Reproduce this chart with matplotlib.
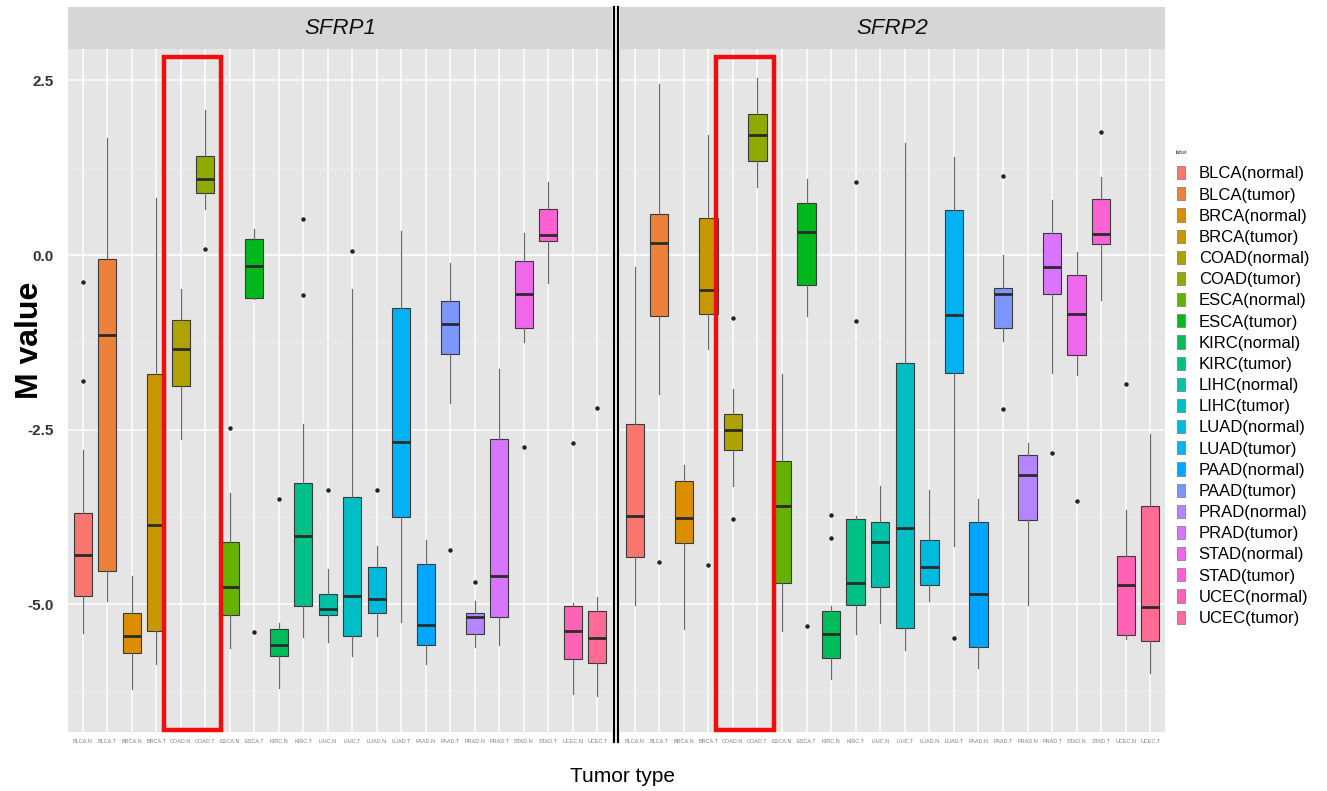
import numpy as np
import matplotlib
matplotlib.use("Agg")
import matplotlib.pyplot as plt
from matplotlib.patches import Patch, Rectangle
from matplotlib.lines import Line2D

plt.rcParams["font.family"] = ["Liberation Sans", "DejaVu Sans"]

W, H = 1327, 791

CATEGORIES = [
    "BLCA.N", "BLCA.T", "BRCA.N", "BRCA.T", "COAD.N", "COAD.T", "ESCA.N", "ESCA.T",
    "KIRC.N", "KIRC.T", "LIHC.N", "LIHC.T", "LUAD.N", "LUAD.T", "PAAD.N", "PAAD.T",
    "PRAD.N", "PRAD.T", "STAD.N", "STAD.T", "UCEC.N", "UCEC.T",
]
LEGEND_LABELS = [
    "BLCA(normal)", "BLCA(tumor)", "BRCA(normal)", "BRCA(tumor)", "COAD(normal)",
    "COAD(tumor)", "ESCA(normal)", "ESCA(tumor)", "KIRC(normal)", "KIRC(tumor)",
    "LIHC(normal)", "LIHC(tumor)", "LUAD(normal)", "LUAD(tumor)", "PAAD(normal)",
    "PAAD(tumor)", "PRAD(normal)", "PRAD(tumor)", "STAD(normal)", "STAD(tumor)",
    "UCEC(normal)", "UCEC(tumor)",
]
GENES = ["SFRP1", "SFRP2"]
HIGHLIGHT = ["COAD.N", "COAD.T"]

# box stats (M values)
SFRP1_WHISLO = [-5.41, -4.96, -6.22, -5.86, -2.64, 0.66, -5.63, -0.63, -6.20, -5.47, -5.54,
                -5.74, -5.45, -5.26, -5.86, -2.12, -5.61, -5.59, -1.25, -0.40, -6.28, -6.32]
SFRP1_Q1 = [-4.88, -4.52, -5.70, -5.38, -1.87, 0.89, -5.16, -0.61, -5.74, -5.02, -5.16,
            -5.45, -5.12, -3.75, -5.59, -1.42, -5.43, -5.18, -1.05, 0.20, -5.78, -5.84]
SFRP1_MED = [-4.30, -1.15, -5.45, -3.86, -1.35, 1.09, -4.76, -0.16, -5.59, -4.03, -5.07,
             -4.88, -4.92, -2.68, -5.30, -0.99, -5.19, -4.60, -0.56, 0.28, -5.38, -5.49]
SFRP1_Q3 = [-3.69, -0.06, -5.12, -1.71, -0.93, 1.42, -4.11, 0.23, -5.35, -3.26, -4.86,
            -3.46, -4.47, -0.76, -4.43, -0.66, -5.13, -2.64, -0.09, 0.66, -5.02, -5.10]
SFRP1_WHISHI = [-2.79, 1.67, -4.60, 0.81, -0.48, 2.08, -3.41, 0.37, -5.27, -2.42, -4.50,
                -0.48, -4.17, 0.34, -4.08, -0.11, -4.95, -1.63, 0.31, 1.05, -4.98, -4.90]
SFRP1_OUTLIERS = [[-0.39, -1.81], [], [], [], [], [0.09], [-2.48], [-5.40], [-3.49],
                  [0.51, -0.57], [-3.37], [0.06], [-3.37], [], [], [-4.22], [-4.68], [],
                  [-2.75], [], [-2.69], [-2.19]]

SFRP2_WHISLO = [-5.01, -1.99, -5.35, -1.35, -3.31, 0.98, -5.38, -0.87, -6.07, -5.42, -5.27,
                -5.65, -4.96, -4.17, -5.91, -1.23, -5.01, -1.69, -1.72, -0.65, -5.50, -5.99]
SFRP2_Q1 = [-4.32, -0.88, -4.13, -0.84, -2.79, 1.35, -4.70, -0.43, -5.77, -5.01, -4.75,
            -5.34, -4.72, -1.69, -5.61, -1.05, -3.80, -0.56, -1.43, 0.16, -5.44, -5.53]
SFRP2_MED = [-3.73, 0.17, -3.77, -0.50, -2.51, 1.72, -3.59, 0.33, -5.43, -4.70, -4.11,
             -3.91, -4.47, -0.86, -4.86, -0.56, -3.15, -0.17, -0.84, 0.30, -4.73, -5.04]
SFRP2_Q3 = [-2.42, 0.59, -3.23, 0.53, -2.28, 2.02, -2.95, 0.75, -5.10, -3.78, -3.83,
            -1.54, -4.08, 0.64, -3.83, -0.47, -2.87, 0.31, -0.29, 0.80, -4.31, -3.59]
SFRP2_WHISHI = [-0.17, 2.45, -3.01, 1.72, -1.92, 2.54, -1.71, 1.09, -5.02, -3.73, -3.31,
                1.61, -3.36, 1.41, -3.49, 0.00, -2.69, 0.79, 0.04, 1.12, -3.65, -2.57]
SFRP2_OUTLIERS = [[], [-4.39], [], [-4.44], [-0.90, -3.78], [], [], [-5.31], [-3.72, -4.05],
                  [1.04, -0.94], [], [], [], [-5.48], [], [1.13, -2.21], [], [-2.84],
                  [-3.52], [1.76], [-1.84], []]

Y_TICKS = [-5.0, -2.5, 0.0, 2.5]
Y_TICK_LABELS = ["-5.0", "-2.5", "0.0", "2.5"]


def hue_pal(n, l=65.0, c=100.0):
    # ggplot2 default discrete palette (HCL -> sRGB)
    xn, yn, zn = 95.047, 100.0, 108.883
    un = 4 * xn / (xn + 15 * yn + 3 * zn)
    vn = 9 * yn / (xn + 15 * yn + 3 * zn)
    out = []
    for h in 15 + 360 * np.arange(n) / n:
        u = c * np.cos(np.radians(h))
        v = c * np.sin(np.radians(h))
        y = yn * ((l + 16) / 116) ** 3
        uu = u / (13 * l) + un
        vv = v / (13 * l) + vn
        x = 9 * y * uu / (4 * vv)
        z = -x / 3 - 5 * y + 3 * y / vv
        x, y, z = x / 100, y / 100, z / 100
        rgb = [3.240479 * x - 1.537150 * y - 0.498535 * z,
               -0.969256 * x + 1.875992 * y + 0.041556 * z,
               0.055648 * x - 0.204043 * y + 1.057311 * z]
        rgb = [12.92 * t if t <= 0.0031308 else 1.055 * t ** (1 / 2.4) - 0.055 for t in rgb]
        out.append(tuple(min(max(t, 0), 1) for t in rgb))
    return out


def px_axes(fig, x0, y0, x1, y1):
    return fig.add_axes([x0 / W, 1 - y1 / H, (x1 - x0) / W, (y1 - y0) / H])


def box_stats(whislo, q1, med, q3, whishi, outliers):
    return [
        {"whislo": a, "q1": b, "med": m, "q3": d, "whishi": e, "fliers": f}
        for a, b, m, d, e, f in zip(whislo, q1, med, q3, whishi, outliers)
    ]


COLORS = hue_pal(len(CATEGORIES))
DATA = {
    "SFRP1": box_stats(SFRP1_WHISLO, SFRP1_Q1, SFRP1_MED, SFRP1_Q3, SFRP1_WHISHI, SFRP1_OUTLIERS),
    "SFRP2": box_stats(SFRP2_WHISLO, SFRP2_Q1, SFRP2_MED, SFRP2_Q3, SFRP2_WHISHI, SFRP2_OUTLIERS),
}

fig = plt.figure(figsize=(W / 100, H / 100), dpi=100)

panels = {"SFRP1": (68, 612), "SFRP2": (620, 1165)}
positions = np.arange(1, len(CATEGORIES) + 1)
ylim = (-6.83, 2.95)

for i, gene in enumerate(GENES):
    x0, x1 = panels[gene]
    ax = px_axes(fig, x0, 49, x1, 732)
    ax.set_facecolor("#E5E5E5")
    ax.set_xlim(0.4, len(CATEGORIES) + 0.6)
    ax.set_ylim(*ylim)

    ax.set_yticks(Y_TICKS)
    ax.set_yticks([-6.25, -3.75, -1.25, 1.25], minor=True)
    ax.grid(which="major", color="white", linewidth=1.1)
    ax.grid(which="minor", axis="y", color="#F0F0F0", linewidth=0.5)
    ax.set_axisbelow(True)
    for s in ax.spines.values():
        s.set_visible(False)

    bp = ax.bxp(
        DATA[gene], positions=positions, widths=0.75, patch_artist=True, showcaps=False,
        boxprops=dict(edgecolor="#3a3a3a", linewidth=0.8),
        medianprops=dict(color="#2b2b2b", linewidth=2.0),
        whiskerprops=dict(color="#6a6a6a", linewidth=0.9),
        flierprops=dict(marker="o", markersize=3.2, markerfacecolor="#222222",
                        markeredgecolor="none"),
    )
    for patch, col in zip(bp["boxes"], COLORS):
        patch.set_facecolor(col)

    ax.set_xticks(positions)
    ax.set_xticklabels(CATEGORIES, fontsize=4, color="#808080")
    ax.tick_params(axis="both", which="both", length=0)
    ax.tick_params(axis="x", pad=5)
    if i == 0:
        ax.set_yticklabels(Y_TICK_LABELS, fontsize=11, fontweight="bold", color="#333333")
        ax.tick_params(axis="y", pad=10)
    else:
        ax.set_yticklabels([])

    # red highlight around COAD normal/tumor
    k0 = CATEGORIES.index(HIGHLIGHT[0]) + 1
    k1 = CATEGORIES.index(HIGHLIGHT[1]) + 1
    ax.add_patch(Rectangle((k0 - 0.69, ylim[0] + 0.03), (k1 - k0) + 1.35, 2.84 - ylim[0] - 0.03,
                           fill=False, edgecolor="#F20D0D", linewidth=3.2, zorder=10,
                           clip_on=False))

    # facet strip
    sx = px_axes(fig, x0, 7, x1, 49)
    sx.set_facecolor("#D6D6D6")
    sx.set_xticks([])
    sx.set_yticks([])
    for s in sx.spines.values():
        s.set_visible(False)
    sx.text(0.5, 0.5, gene, ha="center", va="center", fontsize=16, style="italic",
            transform=sx.transAxes, color="#111111")

# double separator between the facets
for xs in (613.7, 618.3):
    fig.add_artist(Line2D([xs / W, xs / W], [1 - 7 / H, 1 - 742 / H],
                          transform=fig.transFigure, color="black", linewidth=1.6))

fig.text(30 / W, 1 - 340 / H, "M value", rotation=90, ha="center", va="center",
         fontsize=23, fontweight="bold")
fig.text(622 / W, 1 - 776 / H, "Tumor type", ha="center", va="center", fontsize=15)

# legend (title placed separately to get the ggplot spacing)
fig.text(1176 / W, 1 - 152 / H, "label", fontsize=4, ha="left", va="center", color="#333333")
handles = [Patch(facecolor=c, edgecolor="#777777", linewidth=0.5) for c in COLORS]
leg = fig.legend(handles, LEGEND_LABELS, loc="upper left",
                 bbox_to_anchor=(1177 / W, 1 - 166 / H), frameon=False, fontsize=12,
                 handlelength=0.5, handleheight=0.85,
                 handletextpad=0.8, labelspacing=0.345, borderpad=0, borderaxespad=0)

fig.savefig("out.png", dpi=100)
